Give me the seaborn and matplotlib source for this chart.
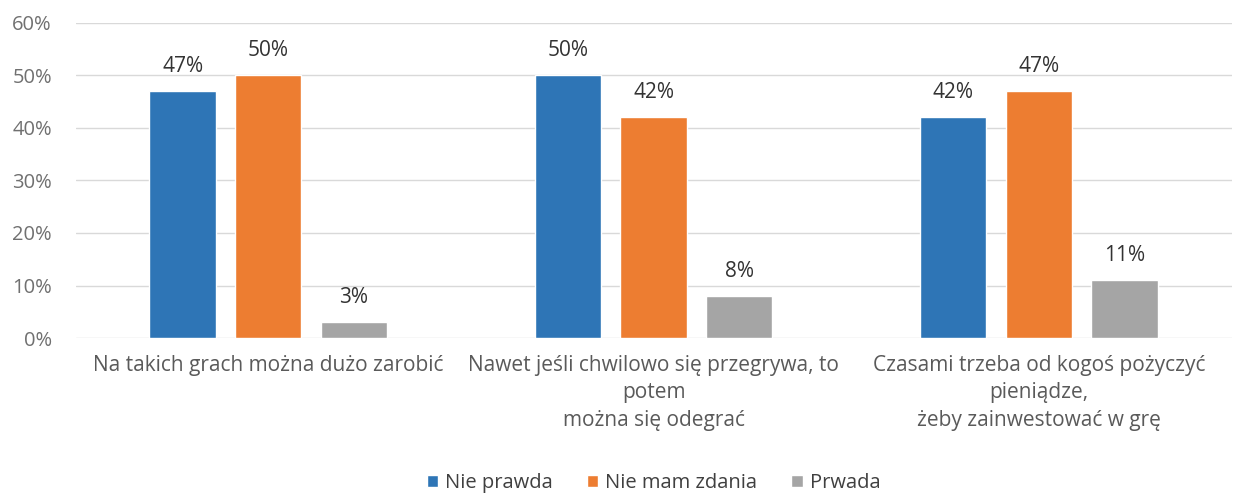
import pandas as pd
import matplotlib
matplotlib.use('Agg')
import matplotlib.pyplot as plt
import seaborn as sns

# Data
categories = ['Na takich grach można dużo zarobić',
              'Nawet jeśli chwilowo się przegrywa, to\npotem\nmożna się odegrać',
              'Czasami trzeba od kogoś pożyczyć\npieniądze,\nżeby zainwestować w grę']
series = ['Nie prawda', 'Nie mam zdania', 'Prwada']
nie_prawda = [47, 50, 42]
nie_mam_zdania = [50, 42, 47]
prawda = [3, 8, 11]
colors = ['#2E75B6', '#ED7D31', '#A5A5A5']
yticks = [0, 10, 20, 30, 40, 50, 60]

rows = []
for s, vals in zip(series, [nie_prawda, nie_mam_zdania, prawda]):
    for c, v in zip(categories, vals):
        rows.append({'category': c, 'series': s, 'value': v})
df = pd.DataFrame(rows)

sns.set_style('white')
plt.rcParams['font.family'] = ['Open Sans', 'DejaVu Sans']

fig = plt.figure(figsize=(12.39, 4.95), dpi=100)
ax = fig.add_axes([0.061, 0.317, 0.933, 0.637])

sns.barplot(data=df, x='category', y='value', hue='series', palette=colors,
            width=0.667, gap=0.225, saturation=1, ax=ax, legend=True)

ax.set_ylim(0, 60)
ax.set_xlim(-0.5, 2.5)
ax.set_yticks(yticks)
ax.set_yticklabels([f'{t}%' for t in yticks], fontsize=14.5, color='#707070')
ax.tick_params(axis='x', labelsize=15, labelcolor='#5a5a5a', length=0, pad=12)
ax.tick_params(axis='y', length=0, pad=17)
for lbl in ax.get_xticklabels():
    lbl.set_linespacing(1.4)
ax.yaxis.grid(True, color='#d9d9d9', linewidth=1)
ax.set_axisbelow(True)
ax.set_xlabel('')
ax.set_ylabel('')
for sp in ax.spines.values():
    sp.set_visible(False)

for cont in ax.containers:
    ax.bar_label(cont, labels=[f'{v:.0f}%' for v in cont.datavalues],
                 padding=10, fontsize=15, color='#333333')

handles, labels = ax.get_legend_handles_labels()
ax.legend(handles, labels, loc='upper center', bbox_to_anchor=(0.5, -0.37),
          ncol=3, frameon=False, fontsize=14.5, handlelength=0.55, handleheight=0.55,
          handletextpad=0.35, columnspacing=1.7, labelcolor='#404040')

fig.savefig('out.png', dpi=100)
